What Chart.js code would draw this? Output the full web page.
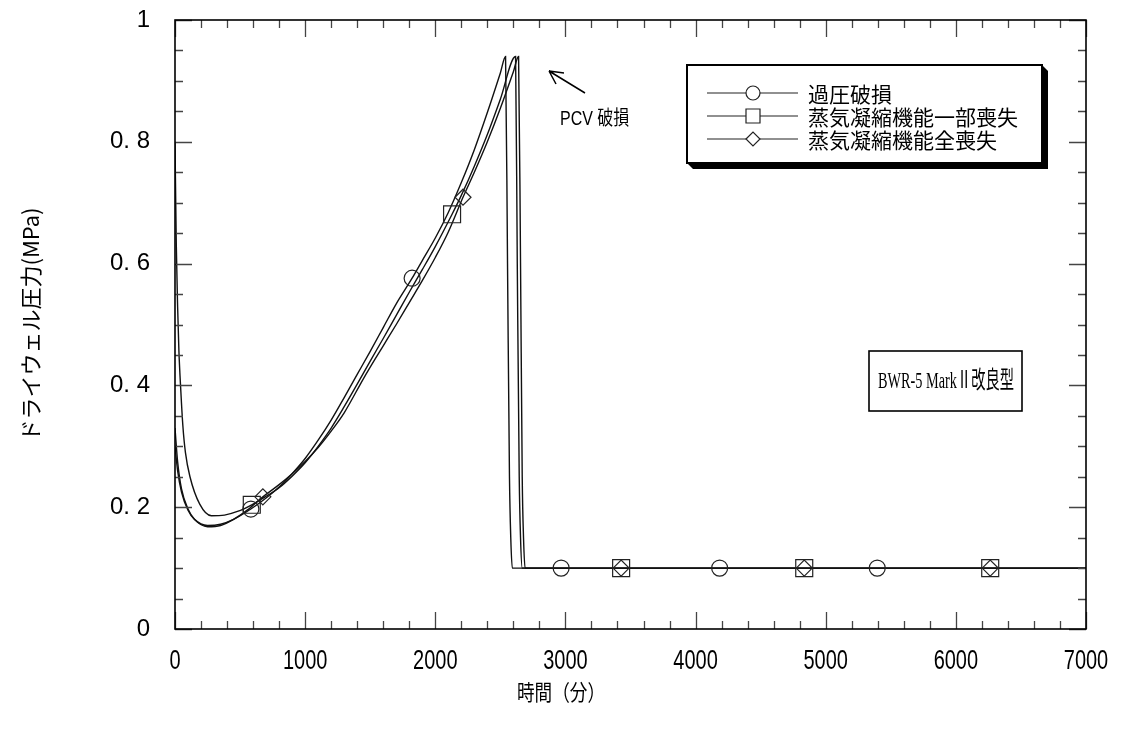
<!DOCTYPE html>
<html>
<head>
<meta charset="utf-8">
<script src="https://cdn.jsdelivr.net/npm/chart.js@4"></script>
<style>
  html, body { margin: 0; background: #fff; }
</style>
</head>
<body>
<canvas id="pressureChart" width="1121" height="735"></canvas>
<script>
// time (min) and drywell pressure (MPa) for each case
var overpressT = [0, 20, 50, 100, 150, 250, 350, 450, 583, 700, 800, 900, 1000, 1100, 1200, 1300, 1400, 1500, 1600, 1700, 1822, 1900, 2000, 2100, 2200, 2300, 2400, 2500, 2540, 2555, 2570, 2580, 2592, 7000];
var overpressP = [0.30, 0.26, 0.225, 0.195, 0.18, 0.17, 0.172, 0.18, 0.197, 0.215, 0.233, 0.255, 0.28, 0.31, 0.343, 0.38, 0.418, 0.456, 0.495, 0.534, 0.576, 0.605, 0.642, 0.684, 0.733, 0.787, 0.848, 0.913, 0.94, 0.6, 0.25, 0.15, 0.1, 0.1];

var partialT = [0, 10, 20, 30, 45, 60, 80, 115, 190, 280, 380, 480, 590, 700, 800, 900, 1000, 1100, 1200, 1300, 1400, 1500, 1600, 1700, 1800, 1900, 2000, 2129, 2200, 2300, 2400, 2500, 2617, 2630, 2645, 2655, 2668, 7000];
var partialP = [0.8, 0.63, 0.53, 0.457, 0.39, 0.335, 0.29, 0.25, 0.205, 0.186, 0.187, 0.193, 0.204, 0.218, 0.232, 0.251, 0.273, 0.3, 0.33, 0.365, 0.402, 0.44, 0.477, 0.515, 0.553, 0.59, 0.628, 0.681, 0.712, 0.76, 0.812, 0.87, 0.94, 0.6, 0.25, 0.15, 0.1, 0.1];

var totalT = [0, 20, 50, 100, 150, 250, 350, 450, 560, 675, 800, 900, 1000, 1100, 1200, 1300, 1445, 1500, 1600, 1700, 1800, 1900, 2000, 2100, 2213, 2300, 2400, 2500, 2600, 2640, 2655, 2668, 2678, 2690, 7000];
var totalP = [0.33, 0.275, 0.23, 0.197, 0.18, 0.168, 0.17, 0.18, 0.196, 0.217, 0.237, 0.255, 0.275, 0.298, 0.325, 0.355, 0.41, 0.43, 0.465, 0.5, 0.536, 0.572, 0.61, 0.652, 0.709, 0.75, 0.8, 0.855, 0.915, 0.94, 0.6, 0.25, 0.15, 0.1, 0.1];

// symbol positions along each curve
var overpressMarkT = [583, 1822, 2967, 4185, 5396];
var overpressMarkP = [0.197, 0.576, 0.1, 0.1, 0.1];
var partialMarkT = [590, 2129, 3428, 4835, 6264];
var partialMarkP = [0.204, 0.681, 0.1, 0.1, 0.1];
var totalMarkT = [675, 2213, 3428, 4835, 6264];
var totalMarkP = [0.217, 0.709, 0.1, 0.1, 0.1];

var seriesNames = ['過圧破損', '蒸気凝縮機能一部喪失', '蒸気凝縮機能全喪失'];
var seriesSymbols = ['circle', 'rect', 'rectRot'];
var symbolRadius = [8, 12, 8];

var xMax = 7000, xMajor = 1000, xMinor = 200;
var yMax = 1, yMajor = 0.2, yMinor = 0.05;

function pts(t, p) {
  return t.map(function(v, i) { return {x: v, y: p[i]}; });
}

function curve(t, p) {
  return {
    data: pts(t, p),
    borderColor: '#111',
    borderWidth: 1.4,
    pointRadius: 0,
    fill: false,
    cubicInterpolationMode: 'monotone'
  };
}

function marks(t, p, k) {
  return {
    data: pts(t, p),
    showLine: false,
    pointStyle: seriesSymbols[k],
    pointRadius: symbolRadius[k],
    pointBorderColor: '#222',
    pointBackgroundColor: 'rgba(0,0,0,0)',
    pointBorderWidth: 1.2
  };
}

// text squeezed horizontally (narrow gothic look)
function narrowText(ctx, text, x, y, sx, align) {
  ctx.save();
  ctx.translate(x, y);
  ctx.scale(sx, 1);
  ctx.textAlign = align || 'center';
  ctx.fillText(text, 0, 0);
  ctx.restore();
}

// inward ticks on all four sides, frame and x labels
var frameTicks = {
  id: 'frameTicks',
  afterDatasetsDraw: function(chart) {
    var ctx = chart.ctx, a = chart.chartArea, x = chart.scales.x, y = chart.scales.y;
    ctx.save();
    ctx.strokeStyle = '#444';
    ctx.lineWidth = 1.3;
    ctx.beginPath();
    for (var v = 0; v <= xMax; v += xMinor) {
      var px = Math.round(x.getPixelForValue(v)) + 0.5;
      var len = v % xMajor === 0 ? 17 : 8;
      ctx.moveTo(px, a.bottom); ctx.lineTo(px, a.bottom - len);
      ctx.moveTo(px, a.top); ctx.lineTo(px, a.top + len);
    }
    var n = Math.round(yMax / yMinor), every = Math.round(yMajor / yMinor);
    for (var i = 0; i <= n; i++) {
      var py = Math.round(y.getPixelForValue(i * yMinor)) + 0.5;
      var ylen = i % every === 0 ? 17 : 8;
      ctx.moveTo(a.left, py); ctx.lineTo(a.left + ylen, py);
      ctx.moveTo(a.right, py); ctx.lineTo(a.right - ylen, py);
    }
    ctx.stroke();
    ctx.strokeStyle = '#000';
    ctx.lineWidth = 1.6;
    ctx.strokeRect(a.left, a.top, a.width, a.height);

    ctx.fillStyle = '#000';
    ctx.textBaseline = 'middle';
    ctx.font = '27px "Liberation Sans"';
    x.ticks.forEach(function(t) {
      narrowText(ctx, String(t.value), x.getPixelForValue(t.value), 662, 0.74);
    });
    ctx.font = '22px "Noto Sans CJK JP"';
    narrowText(ctx, '時間（分）', 561, 692, 0.8);
    ctx.restore();
  }
};

function drawSymbol(ctx, style, cx, cy, r) {
  ctx.beginPath();
  if (style === 'circle') {
    ctx.arc(cx, cy, r, 0, Math.PI * 2);
  } else if (style === 'rect') {
    ctx.rect(cx - r, cy - r, 2 * r, 2 * r);
  } else {
    ctx.moveTo(cx - r, cy); ctx.lineTo(cx, cy - r); ctx.lineTo(cx + r, cy); ctx.lineTo(cx, cy + r); ctx.closePath();
  }
  ctx.fillStyle = '#fff';
  ctx.fill();
  ctx.stroke();
}

// legend box with drop shadow, annotation box and PCV label
var notes = {
  id: 'notes',
  afterDraw: function(chart) {
    var ctx = chart.ctx;
    ctx.save();

    var L = 687, T = 65, R = 1042, B = 163, s = 6;
    ctx.fillStyle = '#000';
    ctx.beginPath();
    ctx.moveTo(R, T); ctx.lineTo(R + s, T + s); ctx.lineTo(R + s, B + s);
    ctx.lineTo(L + s, B + s); ctx.lineTo(L, B); ctx.closePath();
    ctx.fill();
    ctx.fillStyle = '#fff';
    ctx.fillRect(L, T, R - L, B - T);
    ctx.strokeStyle = '#000';
    ctx.lineWidth = 2;
    ctx.strokeRect(L, T, R - L, B - T);

    ctx.font = '21px "Noto Sans CJK JP"';
    ctx.textBaseline = 'middle';
    for (var k = 0; k < seriesNames.length; k++) {
      var ly = 93 + k * 23;
      ctx.strokeStyle = '#222';
      ctx.lineWidth = 1.2;
      ctx.beginPath();
      ctx.moveTo(707, ly); ctx.lineTo(798, ly);
      ctx.stroke();
      drawSymbol(ctx, seriesSymbols[k], 753, ly, 7);
      ctx.fillStyle = '#000';
      ctx.fillText(seriesNames[k], 808, ly + 1);
    }

    // plant type box
    ctx.lineWidth = 1.6;
    ctx.strokeStyle = '#000';
    ctx.strokeRect(869, 351, 153, 60);
    ctx.fillStyle = '#000';
    ctx.font = '24px "Liberation Serif", "Noto Sans CJK JP"';
    var label = 'BWR-5 MarkⅡ改良型';
    var w = ctx.measureText(label).width;
    narrowText(ctx, label, 946, 382, Math.min(1, 136 / w));

    // PCV failure arrow
    ctx.lineWidth = 1.5;
    ctx.beginPath();
    ctx.moveTo(585, 93); ctx.lineTo(549, 71);
    ctx.moveTo(549, 71); ctx.lineTo(564, 73);
    ctx.moveTo(549, 71); ctx.lineTo(556, 84);
    ctx.stroke();
    ctx.font = '20px "Liberation Sans", "Noto Sans CJK JP"';
    narrowText(ctx, 'PCV 破損', 560, 119, 0.8, 'left');
    ctx.restore();
  }
};

var ctxL = document.getElementById('pressureChart');
var pressureChart = new Chart(ctxL, {
  type: 'line',
  data: {
    datasets: [
      marks(overpressMarkT, overpressMarkP, 0),
      marks(partialMarkT, partialMarkP, 1),
      marks(totalMarkT, totalMarkP, 2),
      curve(overpressT, overpressP),
      curve(partialT, partialP),
      curve(totalT, totalP)
    ]
  },
  options: {
    responsive: false,
    animation: false,
    devicePixelRatio: 1,
    layout: { padding: { left: 0, top: 20, right: 35, bottom: 0 } },
    plugins: { legend: { display: false }, tooltip: { enabled: false } },
    scales: {
      x: {
        type: 'linear',
        min: 0, max: xMax,
        afterFit: function(s) { s.height = 106; s.paddingLeft = 0; s.paddingRight = 0; },
        grid: { display: false, drawTicks: false },
        border: { display: false },
        ticks: { stepSize: xMajor, display: false }
      },
      y: {
        type: 'linear',
        min: 0, max: yMax,
        afterFit: function(s) { s.width = 175; s.paddingTop = 0; s.paddingBottom = 0; },
        grid: { display: false, drawTicks: false },
        border: { display: false },
        ticks: {
          stepSize: yMajor,
          padding: 25,
          color: '#000',
          font: { family: '"Liberation Sans"', size: 24 },
          callback: function(v) {
            if (v === 0 || v === 1) return String(v);
            return v.toFixed(1).replace('.', '. ');
          }
        },
        title: {
          display: true,
          text: 'ドライウェル圧力(MPa)',
          color: '#000',
          font: { family: '"Noto Sans CJK JP"', size: 22 },
          padding: { top: 17, bottom: 0 }
        }
      }
    }
  },
  plugins: [frameTicks, notes]
});
</script>
</body>
</html>
